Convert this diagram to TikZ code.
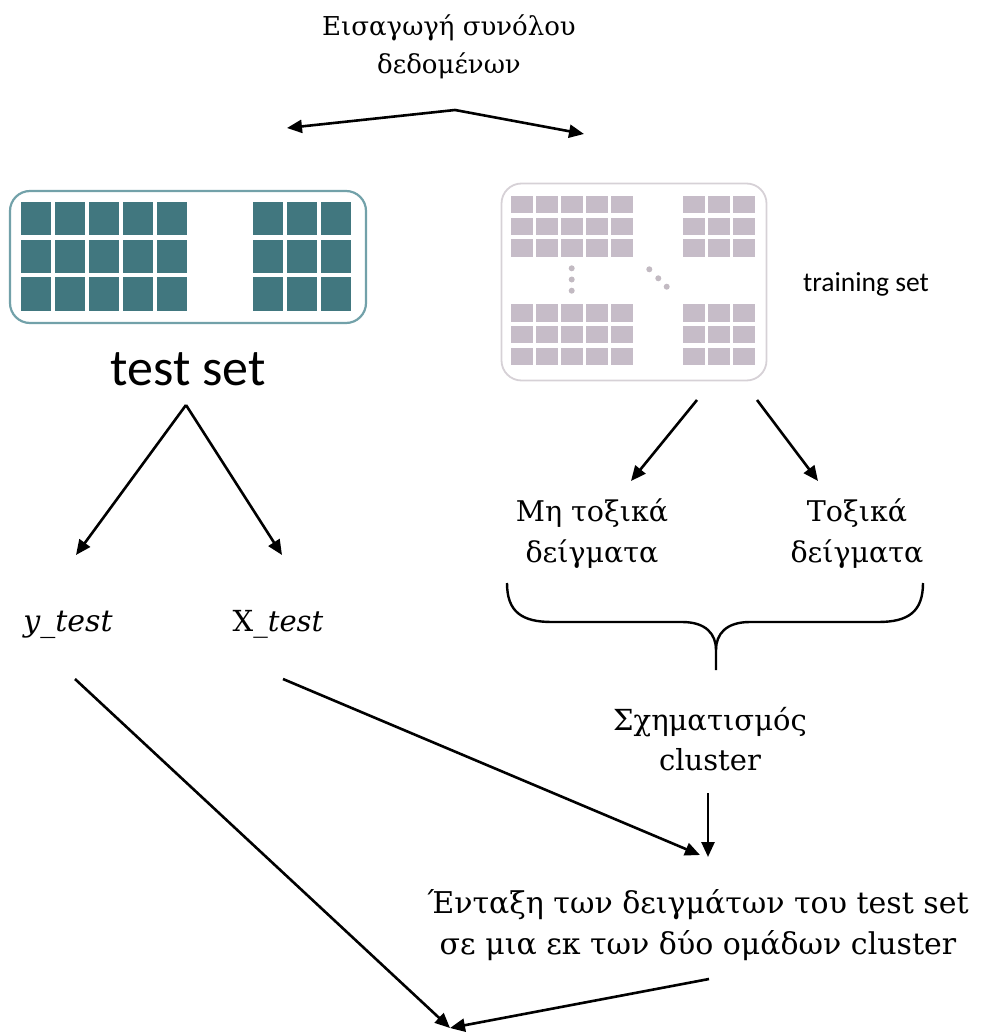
\documentclass[tikz,border=0pt]{standalone}
\usepackage{fontspec}
\setmainfont{DejaVu Serif}
\newfontfamily\calibri{Carlito}
\usetikzlibrary{arrows.meta}

\definecolor{tealcell}{HTML}{41777F}
\definecolor{tealframe}{HTML}{72A1A9}
\definecolor{lilaccell}{HTML}{C6BCC8}
\definecolor{lilacframe}{HTML}{D6D1D6}
\definecolor{lilacdot}{HTML}{C2BAC2}

\tikzset{
  arr/.style={line width=2.6pt, -{Triangle[length=15pt,width=13pt]}},
  greek/.style={align=center, inner sep=0pt},
  frame/.style={rounded corners=20pt, line width=2.2pt, inner sep=0pt}
}

\begin{document}
\begin{tikzpicture}[x=1pt,y=-1pt]
\useasboundingbox (0,0) rectangle (981,1032);

% data source
\node[greek, font=\fontsize{26}{38}\selectfont] (title) at (449,47) {Εισαγωγή συνόλου\\δεδομένων};
\coordinate (split) at (455,110);
\coordinate (toTest) at (287,128);
\coordinate (toTrain) at (584,134);
\draw[arr] (split) -- (toTest);
\draw[arr] (split) -- (toTrain);

% test set: framed grid
\node[frame, draw=tealframe, minimum width=356pt, minimum height=132pt] (testbox) at (188,257) {};
\foreach \c in {0,...,4}
  \foreach \r in {0,...,2}
    \fill[tealcell] (20.7+34*\c, 201.7+37.8*\r) rectangle ++(30,33.3);
\foreach \c in {0,...,2}
  \foreach \r in {0,...,2}
    \fill[tealcell] (252.7+34*\c, 201.7+37.8*\r) rectangle ++(30,33.3);
\node[font=\calibri\fontsize{52}{60}\selectfont, inner sep=0pt] (testlabel) at (188,369) {test set};

% training set: framed grid with ellipsis dots
\node[frame, draw=lilacframe, line width=1.8pt, minimum width=265pt, minimum height=197pt] (trainbox) at (634,282) {};
\foreach \c in {0,...,4}
  \foreach \r in {0,...,2} {
    \fill[lilaccell] (510.7+25*\c, 196+21.7*\r) rectangle ++(22,17.3);
    \fill[lilaccell] (510.7+25*\c, 304.3+21.7*\r) rectangle ++(22,17.3);
  }
\foreach \c in {0,...,2}
  \foreach \r in {0,...,2} {
    \fill[lilaccell] (683.3+25*\c, 196+21.7*\r) rectangle ++(22,17.3);
    \fill[lilaccell] (683.3+25*\c, 304.3+21.7*\r) rectangle ++(22,17.3);
  }
\foreach \p in {(571.7,268.3),(571.7,279.5),(571.7,290.7),(649.3,269.3),(658.3,278.3),(666.7,286.7)}
  \fill[lilacdot] \p circle (3pt);
\node[font=\calibri\fontsize{27.5}{32}\selectfont, inner sep=0pt, anchor=base] (trainlabel) at (866,291) {training set};

% split of the test set
\coordinate (testApex) at (186,405);
\coordinate (toY) at (76,555);
\coordinate (toX) at (282,555);
\draw[arr] (testApex) -- (toY);
\draw[arr] (testApex) -- (toX);
\node[greek, anchor=base, font=\fontsize{30}{40}\selectfont] (ytest) at (68,631) {\itshape y\_test};
\node[greek, anchor=base, font=\fontsize{29}{40}\selectfont] (xtest) at (278,631) {X\_\textit{test}};

% split of the training set
\coordinate (trainL) at (697,400);
\coordinate (trainR) at (757,400);
\coordinate (toNon) at (631,481);
\coordinate (toTox) at (818,481);
\draw[arr] (trainL) -- (toNon);
\draw[arr] (trainR) -- (toTox);
\node[greek, font=\fontsize{28.5}{41}\selectfont] (nontox) at (592,534) {Μη τοξικά\\δείγματα};
\node[greek, font=\fontsize{28.5}{41}\selectfont] (tox) at (857,534) {Τοξικά\\δείγματα};

% brace joining the two classes
\draw[line width=2.4pt]
  (507,583) .. controls (507,612) and (522,622) .. (552,622) -- (682,622)
  .. controls (706,622) and (716,634) .. (716,650) -- (716,670);
\draw[line width=2.4pt]
  (923,583) .. controls (923,612) and (908,622) .. (878,622) -- (750,622)
  .. controls (726,622) and (716,634) .. (716,650);

\node[greek, font=\fontsize{29}{40}\selectfont] (clust) at (710,739) {Σχηματισμός\\cluster};
\coordinate (clustOut) at (708,793);
\coordinate (assignIn) at (708,857);
\draw[arr] (clustOut) -- (assignIn);

\coordinate (xOut) at (283,679);
\draw[arr] (xOut) -- (700,855);

\node[greek, font=\fontsize{30}{41}\selectfont] (assign) at (698,925) {Ένταξη των δειγμάτων του test set\\σε μια εκ των δύο ομάδων cluster};

% both streams meet at the bottom
\coordinate (yOut) at (75,679);
\coordinate (assignOut) at (709,979);
\coordinate (meet) at (450,1028);
\draw[arr] (yOut) -- (meet);
\draw[arr] (assignOut) -- (meet);
\end{tikzpicture}
\end{document}
